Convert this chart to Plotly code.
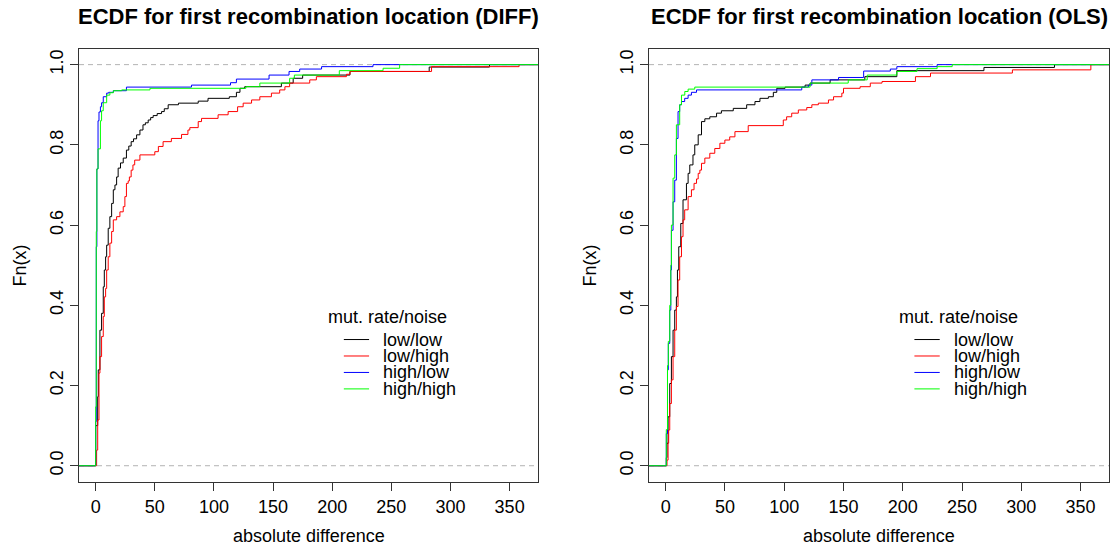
import plotly.graph_objects as go

# ---------------- data (ECDF step points) ----------------
series_names = ["low/low", "low/high", "high/low", "high/high"]
series_colors = ["#000000", "#FF0000", "#0000FF", "#00FF00"]

# DIFF panel
diff_lowlow_x = [0, 1.7, 2.2, 3.6, 5, 6.4, 7.3, 8.4, 9.3, 10.6, 12, 13.5, 14.9, 16.3, 17.7, 19, 21, 23.3, 26, 28, 30,
                 32, 34.6, 37.4, 40, 42, 44.4, 46.5, 48.6, 52, 55.7, 58, 61.3, 70, 86.7, 95, 113, 119, 122, 126, 157,
                 167, 175, 215, 282, 333]
diff_lowlow_y = [0.10, 0.172, 0.239, 0.338, 0.38, 0.446, 0.488, 0.521, 0.55, 0.592, 0.621, 0.654, 0.688, 0.70, 0.72,
                 0.742, 0.755, 0.767, 0.787, 0.797, 0.808, 0.815, 0.825, 0.837, 0.85, 0.855, 0.862, 0.868, 0.873,
                 0.878, 0.883, 0.89, 0.9, 0.904, 0.909, 0.916, 0.92, 0.931, 0.941, 0.945, 0.954, 0.966, 0.974, 0.983,
                 0.994, 1.0]
diff_lowhigh_x = [0.8, 1.7, 2.8, 3.6, 5, 6.4, 7.3, 8.4, 9.3, 10.6, 12, 13.5, 14.9, 17.7, 20.5, 23.3, 24.7, 26, 27.5,
                  28.5, 30, 31.5, 33, 37.4, 50, 53, 57, 64, 72.6, 78, 79.6, 86.7, 89.5, 103.5, 112, 120, 124.7, 131.8,
                  138.8, 148.6, 155.6, 160, 164, 181, 186.6, 212, 215, 284, 358]
diff_lowhigh_y = [0.039, 0.114, 0.231, 0.272, 0.322, 0.372, 0.421, 0.442, 0.488, 0.521, 0.555, 0.584, 0.613, 0.621,
                  0.633, 0.646, 0.671, 0.704, 0.71, 0.72, 0.737, 0.75, 0.762, 0.775, 0.783, 0.796, 0.808, 0.816,
                  0.826, 0.837, 0.843, 0.858, 0.866, 0.875, 0.883, 0.895, 0.904, 0.912, 0.92, 0.929, 0.937, 0.945,
                  0.954, 0.962, 0.97, 0.976, 0.983, 0.995, 1.0]
diff_highlow_x = [0, 0.5, 1, 2, 2.8, 4, 5, 6.4, 9.3, 11, 14.9, 26, 81, 114, 119, 146.6, 163.5, 172.5, 191, 234.5]
diff_highlow_y = [0.11, 0.546, 0.74, 0.86, 0.882, 0.895, 0.905, 0.92, 0.929, 0.931, 0.935, 0.944, 0.949, 0.955,
                  0.964, 0.974, 0.983, 0.989, 0.995, 1.0]
diff_highhigh_x = [0, 0.5, 1, 2, 4, 5, 6.4, 9.3, 12, 15, 22, 45.9, 127, 138.8, 164, 168, 206, 243, 257]
diff_highhigh_y = [0.147, 0.584, 0.74, 0.79, 0.86, 0.885, 0.905, 0.924, 0.93, 0.935, 0.937, 0.941, 0.945, 0.954,
                   0.966, 0.974, 0.985, 0.991, 1.0]

# OLS panel
ols_lowlow_x = [0.5, 1.1, 2, 3.4, 4.8, 6.2, 7.6, 9, 9.9, 11, 12.7, 14.6, 17.5, 18.9, 20.3, 23, 24.5, 27.4, 30.2, 33,
                37.2, 42.9, 47, 57, 68.3, 75.3, 79.5, 86.6, 90.8, 93.7, 100.7, 117.6, 121.8, 138.7, 168, 195, 268.5,
                328]
ols_lowlow_y = [0.02, 0.056, 0.122, 0.205, 0.272, 0.338, 0.388, 0.421, 0.488, 0.546, 0.604, 0.663, 0.704, 0.729,
                0.75, 0.775, 0.80, 0.825, 0.858, 0.865, 0.87, 0.879, 0.885, 0.891, 0.9, 0.908, 0.916, 0.92, 0.931,
                0.941, 0.944, 0.949, 0.954, 0.962, 0.97, 0.985, 0.993, 1.0]
ols_lowhigh_x = [1.1, 2, 2.5, 3.4, 4.8, 6.2, 7.6, 9, 10.4, 11.8, 13.3, 14.6, 16, 18.9, 21.7, 23.9, 26, 27.4, 28.8,
                 30.2, 33, 37.2, 41.4, 45.7, 49.9, 54, 58.4, 69.6, 99.2, 102, 106.3, 111.9, 119, 123.3, 128.8, 137.3,
                 141.6, 148.6, 150, 164, 172.6, 182.5, 210.7, 223.4, 292.5, 358.7]
ols_lowhigh_y = [0.014, 0.056, 0.089, 0.155, 0.214, 0.272, 0.338, 0.397, 0.463, 0.521, 0.571, 0.613, 0.638, 0.671,
                 0.688, 0.704, 0.715, 0.729, 0.737, 0.754, 0.767, 0.779, 0.791, 0.804, 0.812, 0.82, 0.833, 0.848,
                 0.862, 0.87, 0.879, 0.887, 0.893, 0.9, 0.904, 0.912, 0.92, 0.929, 0.941, 0.945, 0.954, 0.958, 0.97,
                 0.979, 0.987, 1.0]
ols_highlow_x = [0.5, 1.5, 2.2, 3.4, 4.3, 4.8, 6.2, 7.6, 9, 10.4, 11.8, 13.3, 16, 18.9, 21.7, 26, 114.8, 120.4,
                 123.3, 145.8, 167, 189.5, 195, 229]
ols_highlow_y = [0.08, 0.239, 0.305, 0.388, 0.488, 0.587, 0.658, 0.712, 0.816, 0.883, 0.9, 0.908, 0.916, 0.924,
                 0.931, 0.937, 0.944, 0.949, 0.962, 0.968, 0.984, 0.989, 0.995, 1.0]
ols_highhigh_x = [0.5, 1.5, 2.2, 3.4, 4.3, 4.8, 6.2, 7.6, 9, 11.8, 13.3, 16.1, 18.9, 24.5, 121.8, 154, 170, 195, 212,
                  229, 241.7]
ols_highhigh_y = [0.09, 0.25, 0.31, 0.40, 0.5, 0.6, 0.717, 0.775, 0.85, 0.9, 0.924, 0.933, 0.939, 0.944, 0.954,
                  0.962, 0.974, 0.983, 0.99, 0.995, 1.0]

panel_titles = ["ECDF for first recombination location (DIFF)",
                "ECDF for first recombination location (OLS)"]
x_label = "absolute difference"
y_label = "Fn(x)"
legend_title = "mut. rate/noise"
x_ticks = [0, 50, 100, 150, 200, 250, 300, 350]
y_ticks = [0.0, 0.2, 0.4, 0.6, 0.8, 1.0]
y_ticktext = ["0.0", "0.2", "0.4", "0.6", "0.8", "1.0"]

# ---------------- layout constants ----------------
W, H = 1111, 547
X_RANGE = [-14.1, 374.0]
Y_RANGE = [-0.0406, 1.039]
FONT = "Liberation Sans, Arial, Helvetica, sans-serif"
box_px = [(79, 538), (649, 1109)]
top_px, bot_px = 49, 482

panels = [
    [(diff_lowlow_x, diff_lowlow_y), (diff_lowhigh_x, diff_lowhigh_y),
     (diff_highlow_x, diff_highlow_y), (diff_highhigh_x, diff_highhigh_y)],
    [(ols_lowlow_x, ols_lowlow_y), (ols_lowhigh_x, ols_lowhigh_y),
     (ols_highlow_x, ols_highlow_y), (ols_highhigh_x, ols_highhigh_y)],
]

fig = go.Figure()
for p, series in enumerate(panels):
    xa = "x" if p == 0 else "x2"
    ya = "y" if p == 0 else "y2"
    for (xs, ys), name, col in zip(series, series_names, series_colors):
        fig.add_trace(go.Scatter(
            x=[X_RANGE[0]] + list(xs) + [X_RANGE[1]],
            y=[0] + list(ys) + [1],
            mode="lines", line=dict(color=col, width=1, shape="hv"),
            name=name, showlegend=False, xaxis=xa, yaxis=ya, hoverinfo="skip"))

ydom = [1 - bot_px / H, 1 - top_px / H]
axis_common = dict(showgrid=False, zeroline=False, showline=True, mirror=True, linecolor="#333333",
                   linewidth=1, ticks="outside", ticklen=8, tickcolor="#333333", tickwidth=1,
                   tickfont=dict(family=FONT, size=18, color="#000000"))
layout = dict(width=W, height=H, margin=dict(l=0, r=0, t=0, b=0),
              paper_bgcolor="white", plot_bgcolor="white", showlegend=False, hovermode=False)
for p in range(2):
    sfx = "" if p == 0 else "2"
    l, r = box_px[p]
    layout["xaxis" + sfx] = dict(axis_common, domain=[l / W, r / W], range=X_RANGE, tickmode="array",
                                 tickvals=x_ticks, anchor="y" + sfx, ticklabelstandoff=0)
    layout["yaxis" + sfx] = dict(axis_common, domain=ydom, range=Y_RANGE, tickmode="array",
                                 tickvals=y_ticks, ticktext=y_ticktext, tickangle=-90,
                                 anchor="x" + sfx)
fig.update_layout(**layout)

shapes = []
annotations = []
for p in range(2):
    sfx = "" if p == 0 else "2"
    l, r = box_px[p]
    cx = (l + r) / 2 / W
    # dashed reference lines
    for yv in (0, 1):
        shapes.append(dict(type="line", xref="x" + sfx + " domain", yref="y" + sfx, x0=0, x1=1, y0=yv, y1=yv,
                           line=dict(color="#B3B3B3", width=1, dash="5px,4px"), layer="below"))
    annotations.append(dict(text="<b>" + panel_titles[p] + "</b>", xref="paper", yref="paper", x=cx,
                            y=1 - 17 / H, showarrow=False, xanchor="center", yanchor="middle",
                            font=dict(family=FONT, size=22, color="#000000")))
    annotations.append(dict(text=x_label, xref="paper", yref="paper", x=cx, y=1 - 536 / H, showarrow=False,
                            xanchor="center", yanchor="middle", font=dict(family=FONT, size=18, color="#000000")))
    annotations.append(dict(text=y_label, xref="paper", yref="paper", x=(l - 59) / W,
                            y=1 - ((top_px + bot_px) / 2) / H, showarrow=False, textangle=-90,
                            xanchor="center", yanchor="middle", font=dict(family=FONT, size=18, color="#000000")))
    # legend
    annotations.append(dict(text=legend_title, xref="x" + sfx + " domain", yref="y" + sfx + " domain",
                            x=0.673, y=0.381, showarrow=False, xanchor="center", yanchor="middle",
                            font=dict(family=FONT, size=18, color="#000000")))
    rows = [0.329, 0.291, 0.253, 0.215]
    for name, col, ry in zip(series_names, series_colors, rows):
        shapes.append(dict(type="line", xref="x" + sfx + " domain", yref="y" + sfx + " domain",
                           x0=0.577, x1=0.632, y0=ry, y1=ry, line=dict(color=col, width=1)))
        annotations.append(dict(text=name, xref="x" + sfx + " domain", yref="y" + sfx + " domain",
                                x=0.658, y=ry, showarrow=False, xanchor="left", yanchor="middle",
                                font=dict(family=FONT, size=18, color="#000000")))

fig.update_layout(shapes=shapes, annotations=annotations)
fig.write_html("out.html", config={"displayModeBar": False},
               post_script="document.body.style.margin='0';document.body.style.padding='0';")
